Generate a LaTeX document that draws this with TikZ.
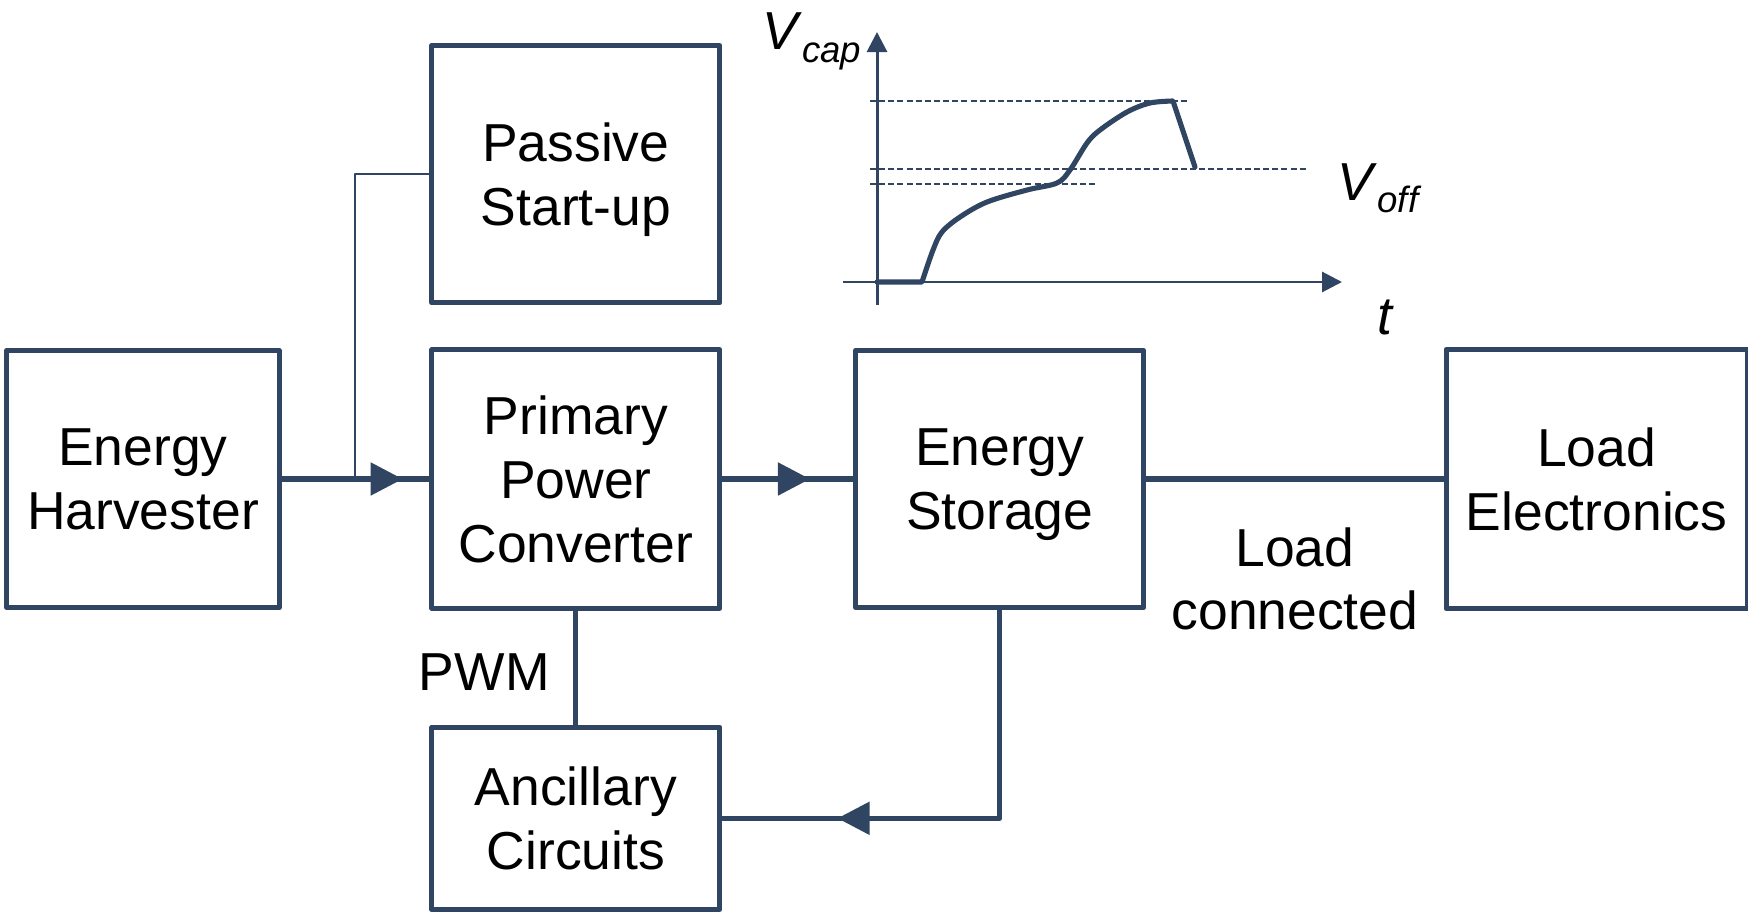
\documentclass[tikz,border=0pt]{standalone}
\usepackage{fontspec}
\setmainfont{Liberation Sans}
\usetikzlibrary{arrows.meta,positioning,decorations.markings}

\definecolor{slate}{HTML}{2F4562}
\newcommand{\vsub}[2]{\textit{#1}\raisebox{-3.6pt}{\fontsize{10.4}{12}\selectfont\textit{#2}}}

\begin{document}
\begin{tikzpicture}[
  x=0.01cm,y=-0.01cm,
  font=\fontsize{15.2}{18.1}\selectfont,
  line join=round,
  block/.style={draw=slate,line width=1.45pt,minimum width=28.8mm,minimum height=25.7mm,align=center,text depth=0pt,inner sep=0pt},
  link/.style={draw=slate,line width=1.45pt},
  thinlink/.style={draw=slate,line width=0.6pt},
  midarrow/.style={postaction={decorate},decoration={markings,mark=at position #1 with {\arrow[slate]{Triangle[length=3.2mm,width=3.2mm]}}}},
  axis/.style={draw=slate,line width=0.85pt},
  level/.style={draw=slate,line width=0.55pt,dash pattern=on 1.7pt off 0.9pt},
  trace/.style={draw=slate,line width=1.45pt,line cap=round}
]
\useasboundingbox (0,0) rectangle (1748,915);

% ===== Blocks =====
\node[block,minimum width=27.2mm] (harvester) at (143,479) {Energy\\Harvester};
\node[block,right=14.75mm of harvester,minimum height=25.8mm] (converter) {Primary\\Power\\Converter};
\node[block,above=4.2mm of converter] (startup) {Passive\\Start-up};
\node[block,right=13.05mm of converter] (storage) {Energy\\Storage};
\node[block,right=29.7mm of storage,minimum width=30.1mm,minimum height=25.9mm] (load) {Load\\Electronics};
\node[block,below=11.4mm of converter,minimum height=18.2mm] (ancillary) {Ancillary\\Circuits};

% ===== Connectors =====
\draw[link,midarrow=0.82] (harvester.east) -- (converter.west) coordinate[pos=0.5] (tap);
\draw[thinlink] (startup.west) -| (tap);
\draw[link,midarrow=0.67] (converter.east) -- (storage.west);
\draw[link] (storage.east) -- (load.west) node[midway,below=3.4mm,align=center] {Load\\connected};
\draw[link] (converter.south) -- (ancillary.north) node[midway,left=1.2mm,yshift=-0.45mm] {PWM};
\draw[link,midarrow=0.763] (storage.south) |- (ancillary.east);

% ===== Capacitor voltage sketch =====
\draw[level] (870,101) -- (1188,101);
\draw[level] (870,169) -- (1308,169);
\draw[level] (870,184) -- (1097,184);
\draw[axis,-{Triangle[length=2mm,width=2mm]}] (877,305) -- (877,32);
\draw[axis,-{Triangle[length=2mm,width=2mm]}] (843,282) -- (1342,282);
\draw[trace] (877,282) -- plot[smooth,tension=0.55] coordinates {(922,282) (933,250) (942,232) (960,217) (987,202) (1027,190) (1057,183) (1070,170) (1087,143) (1100,130) (1127,112) (1150,103) (1173,101)} -- (1195,167);
\node[anchor=base east,inner sep=0pt] (vcap) at (862,50) {\vsub{V}{cap}};
\node[anchor=base west,inner sep=0pt] (voff) at (1337,200) {\vsub{V}{off}};
\node[anchor=base west,inner sep=0pt] (tlabel) at (1377,334) {\textit{t}};

\end{tikzpicture}
\end{document}
